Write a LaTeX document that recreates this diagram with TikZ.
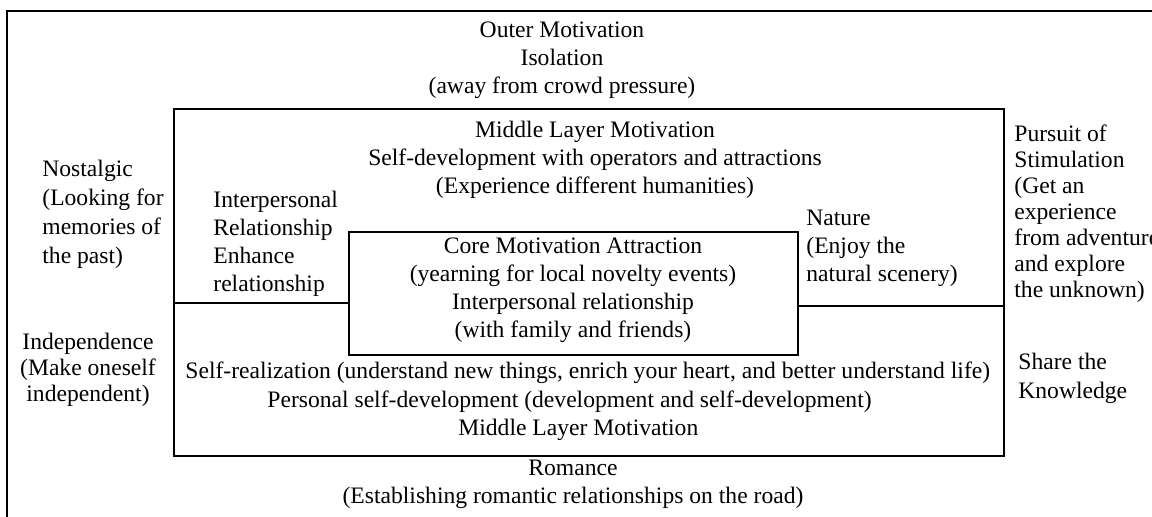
\documentclass[tikz,border=0pt]{standalone}
\usepackage{fontspec}
\setmainfont{Liberation Serif}
\usetikzlibrary{fit}

\begin{document}
\begin{tikzpicture}[x=0.5pt, y=-0.5pt,
  layer/.style={draw, line width=0.8pt, inner sep=0pt, outer sep=0pt},
  sep/.style={line width=0.8pt},
  txt/.style={align=center, inner sep=0pt, font=\fontsize{11.8}{14}\selectfont},
  lefttxt/.style={txt, align=left, anchor=west},
  tight/.style={font=\fontsize{11.8}{13}\selectfont},
  loose/.style={font=\fontsize{11.8}{14.5}\selectfont}]
\useasboundingbox (0,0) rectangle (1152,517);
% the three nested layers
\coordinate (outerNW) at (7,11);
\coordinate (outerSE) at (1180,540);
\coordinate (midNW) at (174,109);
\coordinate (midSE) at (1004,456);
\coordinate (coreNW) at (349,232);
\coordinate (coreSE) at (798,355);
\node[layer, fit=(outerNW)(outerSE)] (outer) {};
\node[layer, fit=(midNW)(midSE)] (middle) {};
\node[layer, fit=(coreNW)(coreSE)] (core) {};
% dividers between core and middle layer
\coordinate (splitL) at (0,303);
\coordinate (splitR) at (0,306);
\draw[sep] (middle.west |- splitL) -- (core.west |- splitL);
\draw[sep] (core.east |- splitR) -- (middle.east |- splitR);
% labels
\node[txt] (outertxt) at (562,60) {Outer Motivation\\Isolation\\(away from crowd pressure)};
\node[txt] (midtop) at (595,160) {Middle Layer Motivation\\Self-development with operators and attractions\\(Experience different humanities)};
\node[lefttxt, loose] (nostalgic) at (42,214) {Nostalgic\\(Looking for\\memories of\\the past)};
\node[lefttxt] (interp) at (213,244) {Interpersonal\\Relationship\\Enhance\\relationship};
\node[txt] (coretxt) at (573,290) {Core Motivation Attraction\\(yearning for local novelty events)\\Interpersonal relationship\\(with family and friends)};
\node[lefttxt] (nature) at (806,248) {Nature\\(Enjoy the\\natural scenery)};
\node[lefttxt, tight] (pursuit) at (1014,214) {Pursuit of\\Stimulation\\(Get an\\experience\\from adventure\\and explore\\the unknown)};
\node[txt, tight] (indep) at (88,370) {Independence\\(Make oneself\\independent)};
\node[lefttxt, loose] (share) at (1018,378) {Share the\\Knowledge};
\node[lefttxt] (realize) at (185,373) {Self-realization (understand new things, enrich your heart, and better understand life)};
\node[lefttxt] (personal) at (267,402) {Personal self-development (development and self-development)};
\node[lefttxt] (midlow) at (458,430) {Middle Layer Motivation};
\node[txt] (romance) at (573,484) {Romance\\(Establishing romantic relationships on the road)};
\end{tikzpicture}
\end{document}
